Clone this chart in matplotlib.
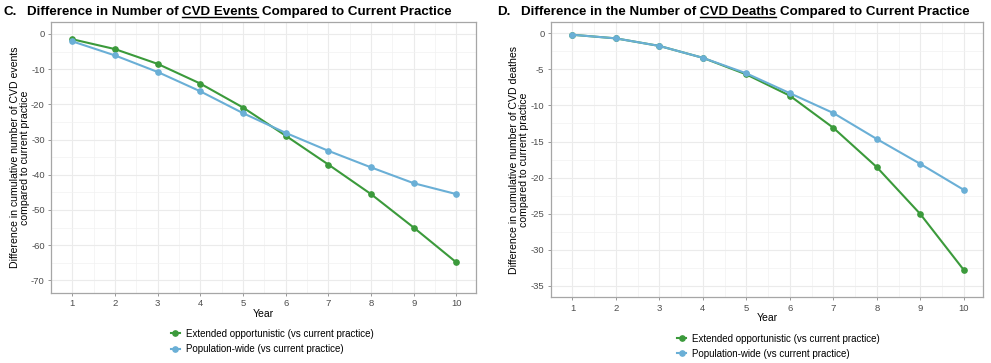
import matplotlib
matplotlib.use('Agg')
import matplotlib.pyplot as plt
from matplotlib.lines import Line2D

plt.rcParams['font.family'] = ['Liberation Sans', 'DejaVu Sans']
plt.rcParams['axes.unicode_minus'] = False

# Data
years = [1, 2, 3, 4, 5, 6, 7, 8, 9, 10]
events_extended = [-1.5, -4.3, -8.5, -14.1, -20.9, -28.9, -37.1, -45.5, -55.0, -64.9]
events_population = [-2.1, -6.1, -10.8, -16.3, -22.5, -28.1, -33.2, -37.9, -42.4, -45.5]
deaths_extended = [-0.2, -0.7, -1.75, -3.4, -5.7, -8.65, -13.1, -18.55, -25.05, -32.8]
deaths_population = [-0.2, -0.7, -1.75, -3.4, -5.55, -8.3, -11.05, -14.65, -18.1, -21.7]
series_labels = ['Extended opportunistic (vs current practice)', 'Population-wide (vs current practice)']

GREEN = '#3b9a3b'
BLUE = '#6aafd6'
TICK_COL = '#4d4d4d'
TITLE_SIZE = 9.6

fig = plt.figure(figsize=(9.91, 3.63), dpi=100)
W, H = 991, 363


def style_axes(ax, yticks, yminor, ylim):
    ax.set_xlim(0.55, 10.45)
    ax.set_ylim(*ylim)
    ax.set_xticks(years)
    ax.set_xticks([y + 0.5 for y in years[:-1]] + [0.5], minor=True)
    ax.set_yticks(yticks)
    ax.set_yticks(yminor, minor=True)
    ax.grid(which='major', color='#ebebeb', linewidth=0.8)
    ax.grid(which='minor', color='#f2f2f2', linewidth=0.5)
    ax.set_axisbelow(True)
    for s in ax.spines.values():
        s.set_color('#a6a6a6')
        s.set_linewidth(0.9)
    ax.tick_params(which='major', length=2.5, width=0.6, color='#888888',
                   labelsize=6.8, labelcolor=TICK_COL, pad=2)
    ax.tick_params(which='minor', length=0)
    ax.set_xlabel('Year', fontsize=7.5, labelpad=0.5)


def draw_title(x_px, y_px, letter, parts):
    fig.text(x_px / W, y_px / H, letter, fontsize=TITLE_SIZE, fontweight='bold', va='baseline')
    renderer = fig.canvas.get_renderer()
    space = 0.278 * TITLE_SIZE * fig.dpi / 72
    x = x_px + 24
    for words, underline in parts:
        t = fig.text(x / W, y_px / H, words, fontsize=TITLE_SIZE, fontweight='bold', va='baseline')
        wd = t.get_window_extent(renderer).width
        if underline:
            fig.add_artist(Line2D([x / W, (x + wd) / W], [(y_px - 2) / H] * 2,
                                  color='black', linewidth=1.0))
        x += wd + space


# Panel C
ax1 = fig.add_axes([51 / W, (H - 292.7) / H, 424.6 / W, 270.7 / H])
ax1.plot(years, events_extended, color=GREEN, lw=1.5, marker='o', ms=3.8, label=series_labels[0])
ax1.plot(years, events_population, color=BLUE, lw=1.5, marker='o', ms=3.8, label=series_labels[1])
style_axes(ax1, [0, -10, -20, -30, -40, -50, -60, -70],
           [-5, -15, -25, -35, -45, -55, -65], (-73.5, 3.4))
ax1.set_ylabel('Difference in cumulative number of CVD events\ncompared to current practice',
               fontsize=7.6, labelpad=1, linespacing=1.0)
ax1.legend(loc='upper left', bbox_to_anchor=(0.27, -0.115), frameon=False, fontsize=7,
           handlelength=1.0, handletextpad=0.6, labelspacing=0.55, borderpad=0)

# Panel D
ax2 = fig.add_axes([550.7 / W, (H - 297.3) / H, 432.6 / W, 275.3 / H])
ax2.plot(years, deaths_extended, color=GREEN, lw=1.5, marker='o', ms=3.8, label=series_labels[0])
ax2.plot(years, deaths_population, color=BLUE, lw=1.5, marker='o', ms=3.8, label=series_labels[1])
style_axes(ax2, [0, -5, -10, -15, -20, -25, -30, -35],
           [-2.5, -7.5, -12.5, -17.5, -22.5, -27.5, -32.5], (-36.6, 1.57))
ax2.set_ylabel('Difference in cumulative number of CVD deathes\ncompared to current practice',
               fontsize=7.6, labelpad=1, linespacing=1.0)
ax2.legend(loc='upper left', bbox_to_anchor=(0.28, -0.114), frameon=False, fontsize=7,
           handlelength=1.0, handletextpad=0.6, labelspacing=0.55, borderpad=0)

draw_title(3, H - 15, 'C.', [('Difference in Number of', False), ('CVD Events', True),
                             ('Compared to Current Practice', False)])
draw_title(497, H - 15, 'D.', [('Difference in the Number of', False), ('CVD Deaths', True),
                               ('Compared to Current Practice', False)])

fig.savefig('out.png', dpi=100)
